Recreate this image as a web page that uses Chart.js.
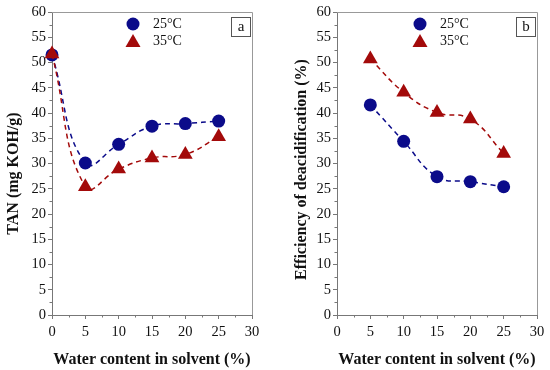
<!DOCTYPE html>
<html>
<head>
<meta charset="utf-8">
<script src="https://cdn.jsdelivr.net/npm/chart.js@4/dist/chart.umd.min.js"></script>
<style>
  html, body { margin: 0; padding: 0; background: #fff; }
  #wrap { width: 550px; height: 370px; display: flex; }
  .box { width: 275px; height: 370px; position: relative; }
</style>
</head>
<body>
<div id="wrap">
  <div class="box"><canvas id="ca"></canvas></div>
  <div class="box"><canvas id="cb"></canvas></div>
</div>
<script>
// ---- data ----
const seriesLabels = ['25°C', '35°C'];
const waterA = [0, 5, 10, 15, 20, 25];
const tan25 = [51.5, 30.1, 33.8, 37.4, 37.9, 38.4];
const tan35 = [51.7, 25.4, 28.9, 31.1, 31.8, 35.3];
const waterB = [5, 10, 15, 20, 25];
const eff25 = [41.6, 34.4, 27.4, 26.4, 25.4];
const eff35 = [50.7, 44.1, 40.1, 38.8, 32.0];
const xTicks = [0, 5, 10, 15, 20, 25, 30];
const yTicks = [0, 5, 10, 15, 20, 25, 30, 35, 40, 45, 50, 55, 60];
const xTitle = 'Water content in solvent (%)';
const yTitleA = 'TAN (mg KOH/g)';
const yTitleB = 'Efficiency of deacidification (%)';

const BLUE = '#0b0b8a';
const RED = '#a30a0a';
const AXIS = '#777777';
const FONT = "'Liberation Serif', 'Times New Roman', serif";

function pts(xs, ys) { return xs.map((x, i) => ({ x: x, y: ys[i] })); }

function framePlugin(panelLetter, legendX) {
  return {
    id: 'frame' + panelLetter,
    beforeDatasetsDraw(chart) {
      const { ctx, chartArea: a, scales } = chart;
      ctx.save();
      ctx.strokeStyle = '#999';
      ctx.lineWidth = 1;
      ctx.beginPath();
      ctx.moveTo(a.left, a.top + 0.5); ctx.lineTo(a.right + 0.5, a.top + 0.5);
      ctx.lineTo(a.right + 0.5, a.bottom);
      ctx.stroke();
      // minor ticks
      ctx.strokeStyle = AXIS;
      ctx.beginPath();
      for (let v = 2.5; v < 30; v += 5) {
        const px = Math.round(scales.x.getPixelForValue(v)) + 0.5;
        ctx.moveTo(px, a.bottom); ctx.lineTo(px, a.bottom + 2.5);
      }
      for (let v = 2.5; v < 60; v += 5) {
        const py = Math.round(scales.y.getPixelForValue(v)) + 0.5;
        ctx.moveTo(a.left, py); ctx.lineTo(a.left - 2.5, py);
      }
      ctx.stroke();
      ctx.restore();
    },
    afterDatasetsDraw(chart) {
      const { ctx, chartArea: a } = chart;
      ctx.save();
      // legend
      const lx = legendX;
      ctx.fillStyle = BLUE;
      ctx.beginPath(); ctx.arc(lx, 24, 6.5, 0, Math.PI * 2); ctx.fill();
      ctx.fillStyle = RED;
      ctx.beginPath();
      ctx.moveTo(lx, 34); ctx.lineTo(lx + 7.5, 47); ctx.lineTo(lx - 7.5, 47); ctx.closePath(); ctx.fill();
      ctx.fillStyle = '#111';
      ctx.font = '14px ' + FONT;
      ctx.textBaseline = 'middle';
      ctx.textAlign = 'left';
      ctx.fillText(seriesLabels[0], lx + 20, 24);
      ctx.fillText(seriesLabels[1], lx + 20, 41);
      // panel letter box
      const bx = a.right - 21, by = 17.5;
      ctx.fillStyle = '#fff';
      ctx.fillRect(bx, by, 19, 19);
      ctx.strokeStyle = '#555';
      ctx.strokeRect(bx + 0.5, by, 19, 19);
      ctx.fillStyle = '#111';
      ctx.font = '15px ' + FONT;
      ctx.textAlign = 'center';
      ctx.fillText(panelLetter, bx + 10, by + 9.5);
      ctx.restore();
    }
  };
}

function makeChart(id, xs, y25, y35, yTitle, yWidth, yTitlePad, letter, legendX, rightPad) {
  const common = { showLine: true, borderWidth: 1.5, borderDash: [5, 4], tension: 0.45, clip: false, pointBorderWidth: 0 };
  return new Chart(document.getElementById(id), {
    type: 'line',
    data: {
      datasets: [
        Object.assign({ label: seriesLabels[1], data: pts(xs, y35), borderColor: RED, backgroundColor: RED,
          pointStyle: 'triangle', pointRadius: 8.5 }, common),
        Object.assign({ label: seriesLabels[0], data: pts(xs, y25), borderColor: BLUE, backgroundColor: BLUE,
          pointStyle: 'circle', pointRadius: 6.5 }, common)
      ]
    },
    options: {
      responsive: false,
      animation: false,
      layout: { padding: { top: 12, right: rightPad, left: 0, bottom: 0 } },
      plugins: { legend: { display: false }, tooltip: { enabled: false } },
      scales: {
        x: {
          type: 'linear', min: 0, max: 30,
          afterBuildTicks: s => { s.ticks = xTicks.map(v => ({ value: v })); },
          afterFit: s => { s.height = 55; },
          ticks: { color: '#111', font: { family: FONT, size: 14.5 }, padding: 4, maxRotation: 0, autoSkip: false },
          grid: { drawOnChartArea: false, tickLength: 4, color: AXIS },
          border: { color: AXIS, width: 1 },
          title: { display: true, text: xTitle, color: '#111',
            font: { family: FONT, size: 16, weight: 'bold' }, padding: { top: 0, bottom: 1 } }
        },
        y: {
          type: 'linear', min: 0, max: 60,
          afterBuildTicks: s => { s.ticks = yTicks.map(v => ({ value: v })); },
          afterFit: s => { s.width = yWidth; },
          ticks: { color: '#111', font: { family: FONT, size: 14.5 }, padding: 2, autoSkip: false },
          grid: { drawOnChartArea: false, tickLength: 4, color: AXIS },
          border: { color: AXIS, width: 1 },
          title: { display: true, text: yTitle, color: '#111',
            font: { family: FONT, size: 16, weight: 'bold' }, padding: { top: yTitlePad, bottom: 0 } }
        }
      }
    },
    plugins: [framePlugin(letter, legendX)]
  });
}

document.getElementById('ca').width = 275; document.getElementById('ca').height = 370;
document.getElementById('cb').width = 275; document.getElementById('cb').height = 370;
// trailing spaces shift the rotated titles slightly down, as in the reference
makeChart('ca', waterA, tan25, tan35, yTitleA + '     ', 52, 4, 'a', 133, 23);
makeChart('cb', waterB, eff25, eff35, yTitleB + '   ', 62, 17.5, 'b', 145, 13);
</script>
</body>
</html>
